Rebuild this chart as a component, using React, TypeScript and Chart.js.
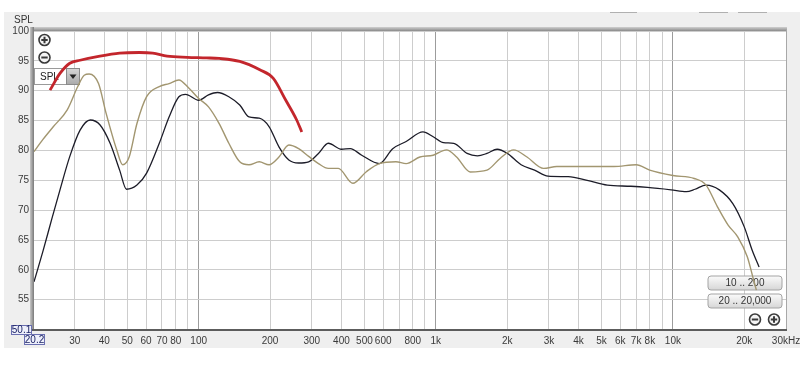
import React, { useEffect, useRef } from 'react';
import { Chart, registerables } from 'chart.js';

Chart.register(...registerables);

// ---- data (frequency in Hz, SPL in dB) ----
const redFreq = [23.6, 26, 28.6, 31.6, 38.3, 46.4, 56.2, 64, 73.6, 89.5, 108, 122, 149, 181, 206, 233, 259, 272];
const redSpl = [90.1, 92.9, 94.6, 95.1, 95.8, 96.3, 96.4, 96.3, 95.8, 95.6, 95.5, 95.4, 94.9, 93.5, 92.1, 88.4, 85.1, 83.1];

const tanFreq = [20.2, 22, 24.4, 27.9, 30.9, 32.9, 34.5, 37.8, 40.7, 45.1, 47.8, 50.9, 54.9, 60.3, 68.2, 75, 82.5, 91, 100, 110, 122, 134, 149, 163, 180, 198, 218, 240, 264, 291, 320, 352, 388, 447, 508, 578, 679, 750, 857, 975, 1109, 1224, 1397, 1644, 1872, 2130, 2425, 2847, 3240, 4080, 5640, 7010, 7980, 10000, 12300, 13800, 15400, 17100, 18800, 20600, 21900, 22500];
const tanSpl = [79.8, 81.8, 84, 86.8, 90.7, 92.6, 92.8, 91.2, 86.2, 80.1, 77.6, 78.9, 84.5, 89, 90.7, 91.2, 91.8, 90.4, 88.7, 87.3, 84.5, 81.2, 78.1, 77.6, 78.1, 77.6, 78.9, 80.9, 80.3, 79, 77.8, 77.0, 77.0, 74.5, 76.4, 77.8, 78.1, 77.8, 78.9, 79.2, 80.1, 78.9, 76.4, 76.7, 78.7, 80.1, 78.9, 77.0, 77.3, 77.3, 77.3, 77.6, 76.7, 75.8, 75.3, 74.2, 70.6, 67.5, 65.5, 62.2, 58.3, 56.6];

const blackFreq = [20.2, 22.1, 24, 26, 28.6, 31.6, 34.9, 38.3, 42.3, 46.4, 49.6, 54.9, 60.3, 68.2, 75, 82.5, 88, 100, 110, 120, 134, 149, 163, 180, 198, 218, 240, 264, 291, 320, 352, 400, 436, 487, 578, 658, 750, 883, 975, 1078, 1190, 1355, 1498, 1644, 1815, 2004, 2290, 2610, 2975, 3620, 4350, 5290, 6650, 7810, 9830, 11400, 12400, 13800, 15700, 17900, 20000, 21600, 23100];
const blackSpl = [58, 63.3, 68.5, 73.4, 79, 83.4, 85.1, 84.3, 81.2, 76.7, 73.5, 74.2, 76.2, 81.2, 85.6, 89, 89.4, 88.4, 89.3, 89.7, 89, 87.6, 85.6, 85.4, 84, 80.6, 78.4, 77.9, 78.1, 79.5, 81.2, 80.2, 80.3, 79.2, 77.8, 80.3, 81.5, 83.1, 82.3, 81.3, 81.2, 79.5, 79.1, 79.5, 80.2, 79.5, 77.6, 76.7, 75.7, 75.6, 75, 74.2, 74, 73.8, 73.4, 73.1, 73.5, 74.2, 73.4, 71.1, 67.2, 63.3, 60.5];

// ---- axes ----
const xMin = 20.2;
const xMax = 30000;
const yMin = 50.1;
const yMax = 100;
const xGridValues = [30, 40, 50, 60, 70, 80, 90, 100, 200, 300, 400, 500, 600, 700, 800, 900, 1000, 2000, 3000, 4000, 5000, 6000, 7000, 8000, 9000, 10000, 20000, 30000];
const xTickText = ['30', '40', '50', '60', '70', '80', '', '100', '200', '300', '400', '500', '600', '', '800', '', '1k', '2k', '3k', '4k', '5k', '6k', '7k', '8k', '', '10k', '20k', '30kHz'];
const yTickValues = [55, 60, 65, 70, 75, 80, 85, 90, 95, 100];
const decadeValues = [100, 1000, 10000];

const FONT = 'Liberation Sans, Arial, sans-serif';

function toPts(f: number[], s: number[]) {
  return f.map((x, i) => ({ x, y: s[i] }));
}

function roundRect(ctx: CanvasRenderingContext2D, x: number, y: number, w: number, h: number, r: number) {
  ctx.beginPath();
  ctx.moveTo(x + r, y);
  ctx.lineTo(x + w - r, y);
  ctx.arcTo(x + w, y, x + w, y + r, r);
  ctx.lineTo(x + w, y + h - r);
  ctx.arcTo(x + w, y + h, x + w - r, y + h, r);
  ctx.lineTo(x + r, y + h);
  ctx.arcTo(x, y + h, x, y + h - r, r);
  ctx.lineTo(x, y + r);
  ctx.arcTo(x, y, x + r, y, r);
  ctx.closePath();
}

function circleIcon(ctx: CanvasRenderingContext2D, cx: number, cy: number, plus: boolean) {
  ctx.save();
  ctx.beginPath();
  ctx.arc(cx, cy, 5.5, 0, Math.PI * 2);
  ctx.fillStyle = '#f4f4f4';
  ctx.fill();
  ctx.lineWidth = 1.6;
  ctx.strokeStyle = '#3a3a3a';
  ctx.stroke();
  ctx.lineWidth = 2;
  ctx.beginPath();
  ctx.moveTo(cx - 3.2, cy);
  ctx.lineTo(cx + 3.2, cy);
  if (plus) {
    ctx.moveTo(cx, cy - 3.2);
    ctx.lineTo(cx, cy + 3.2);
  }
  ctx.stroke();
  ctx.restore();
}

function button(ctx: CanvasRenderingContext2D, x: number, y: number, w: number, h: number, text: string) {
  ctx.save();
  const g = ctx.createLinearGradient(0, y, 0, y + h);
  g.addColorStop(0, '#fbfbfb');
  g.addColorStop(1, '#d6d6d6');
  roundRect(ctx, x, y, w, h, 3);
  ctx.fillStyle = g;
  ctx.fill();
  ctx.strokeStyle = '#a4a4a4';
  ctx.lineWidth = 1;
  ctx.stroke();
  ctx.fillStyle = '#333';
  ctx.font = '10px ' + FONT;
  ctx.textAlign = 'center';
  ctx.textBaseline = 'middle';
  ctx.fillText(text, x + w / 2, y + h / 2 + 0.5);
  ctx.restore();
}

function valueBox(ctx: CanvasRenderingContext2D, x: number, y: number, w: number, h: number, text: string) {
  ctx.save();
  ctx.fillStyle = '#eef0fb';
  ctx.fillRect(x, y, w, h);
  ctx.strokeStyle = '#6a6fb0';
  ctx.lineWidth = 1;
  ctx.strokeRect(x + 0.5, y + 0.5, w - 1, h - 1);
  ctx.fillStyle = '#1c2366';
  ctx.font = '10px ' + FONT;
  ctx.textAlign = 'center';
  ctx.textBaseline = 'middle';
  ctx.fillText(text, x + w / 2, y + h / 2 + 0.5);
  ctx.restore();
}

const chromePlugin = {
  id: 'rewChrome',
  beforeDraw(chart: any) {
    const { ctx, chartArea } = chart;
    ctx.save();
    ctx.fillStyle = '#ffffff';
    ctx.fillRect(0, 0, chart.width, chart.height);
    ctx.fillStyle = '#efefef';
    ctx.fillRect(4, 12, chart.width - 4, 336);
    ctx.fillStyle = '#ffffff';
    ctx.fillRect(chartArea.left, chartArea.top, chartArea.right - chartArea.left, chartArea.bottom - chartArea.top);
    // faint tops of cropped widgets
    ctx.strokeStyle = '#b0b0b0';
    ctx.lineWidth = 1;
    ctx.beginPath();
    ctx.moveTo(610, 12.5); ctx.lineTo(637, 12.5);
    ctx.moveTo(699, 12.5); ctx.lineTo(728, 12.5);
    ctx.moveTo(738, 12.5); ctx.lineTo(767, 12.5);
    ctx.stroke();
    // SPL axis title
    ctx.fillStyle = '#333';
    ctx.font = '10px ' + FONT;
    ctx.textAlign = 'left';
    ctx.textBaseline = 'middle';
    ctx.fillText('SPL', 14, 20);
    ctx.restore();
  },
  beforeDatasetsDraw(chart: any) {
    const { ctx, chartArea } = chart;
    const L = chartArea.left;
    ctx.save();
    circleIcon(ctx, L + 10.5, 40, true);
    circleIcon(ctx, L + 10.5, 57.5, false);
    // SPL dropdown
    ctx.fillStyle = '#ffffff';
    ctx.fillRect(L, 68, 46, 17);
    ctx.strokeStyle = '#9a9a9a';
    ctx.lineWidth = 1;
    ctx.strokeRect(L + 0.5, 68.5, 45, 16);
    const g = ctx.createLinearGradient(0, 68, 0, 85);
    g.addColorStop(0, '#d8d8d8');
    g.addColorStop(1, '#a8a8a8');
    ctx.fillStyle = g;
    ctx.fillRect(L + 33, 69, 12, 15);
    ctx.strokeStyle = '#8a8a8a';
    ctx.strokeRect(L + 32.5, 68.5, 13, 16);
    ctx.fillStyle = '#222';
    ctx.beginPath();
    ctx.moveTo(L + 35.5, 74.5);
    ctx.lineTo(L + 42.5, 74.5);
    ctx.lineTo(L + 39, 79);
    ctx.closePath();
    ctx.fill();
    ctx.fillStyle = '#222';
    ctx.font = '10px ' + FONT;
    ctx.textAlign = 'left';
    ctx.textBaseline = 'middle';
    ctx.fillText('SPL', L + 6, 77);
    // range buttons
    button(ctx, 708, 276, 74, 14, '10 .. 200');
    button(ctx, 708, 294, 74, 14, '20 .. 20,000');
    circleIcon(ctx, 755, 319.5, false);
    circleIcon(ctx, 774, 319.5, true);
    ctx.restore();
  },
  afterDraw(chart: any) {
    const { ctx, chartArea } = chart;
    const { left, right, top, bottom } = chartArea;
    ctx.save();
    // frame
    const gt = ctx.createLinearGradient(0, top - 4, 0, top);
    gt.addColorStop(0, '#d0d0d0');
    gt.addColorStop(1, '#8a8a8a');
    ctx.fillStyle = gt;
    ctx.fillRect(left - 3, top - 4, right - left + 4, 4);
    const gl = ctx.createLinearGradient(left - 4, 0, left, 0);
    gl.addColorStop(0, '#c8c8c8');
    gl.addColorStop(1, '#7a7a7a');
    ctx.fillStyle = gl;
    ctx.fillRect(left - 4, top - 4, 4, bottom - top + 6);
    ctx.fillStyle = '#5c5c5c';
    ctx.fillRect(left - 2, bottom, right - left + 3, 2);
    ctx.fillStyle = '#a8a8a8';
    ctx.fillRect(right, top - 2, 1, bottom - top + 2);
    // min value boxes
    valueBox(ctx, 11, 325, 21, 10, '50.1');
    valueBox(ctx, 24, 334, 21, 11, '20.2');
    ctx.restore();
  },
};

export default function App() {
  const canvasRef = useRef<HTMLCanvasElement | null>(null);

  useEffect(() => {
    const canvas = canvasRef.current;
    if (!canvas) return;
    const chart = new Chart(canvas, {
      type: 'scatter',
      data: {
        datasets: [
          {
            label: 'Red',
            data: toPts(redFreq, redSpl),
            showLine: true,
            borderColor: '#c3262c',
            borderWidth: 2.8,
            pointRadius: 0,
            cubicInterpolationMode: 'monotone',
          },
          {
            label: 'Tan',
            data: toPts(tanFreq, tanSpl),
            showLine: true,
            borderColor: '#a29670',
            borderWidth: 1.4,
            pointRadius: 0,
            cubicInterpolationMode: 'monotone',
          },
          {
            label: 'Black',
            data: toPts(blackFreq, blackSpl),
            showLine: true,
            borderColor: '#1c1c28',
            borderWidth: 1.3,
            pointRadius: 0,
            cubicInterpolationMode: 'monotone',
          },
        ],
      },
      options: {
        animation: false,
        responsive: false,
        devicePixelRatio: 1,
        layout: { padding: { top: 31, right: 14, left: 0, bottom: 0 } },
        plugins: { legend: { display: false }, tooltip: { enabled: false } },
        scales: {
          x: {
            type: 'logarithmic',
            min: xMin,
            max: xMax,
            afterBuildTicks: (s: any) => {
              s.ticks = xGridValues.map((v) => ({ value: v }));
            },
            afterFit: (s: any) => {
              s.height = 48;
              s.paddingLeft = 0;
              s.paddingRight = 0;
            },
            border: { display: false },
            grid: {
              drawTicks: false,
              color: (c: any) => (decadeValues.includes(c.tick?.value) ? '#9c9c9c' : '#cdcdcd'),
              lineWidth: 1,
            },
            ticks: {
              autoSkip: false,
              maxRotation: 0,
              minRotation: 0,
              padding: 6,
              color: '#3a3a3a',
              font: { family: FONT, size: 10 },
              callback: (v: any) => {
                const i = xGridValues.indexOf(Number(v));
                return i >= 0 ? xTickText[i] : '';
              },
            },
          },
          y: {
            type: 'linear',
            min: yMin,
            max: yMax,
            afterBuildTicks: (s: any) => {
              s.ticks = yTickValues.map((v) => ({ value: v }));
            },
            afterFit: (s: any) => {
              s.width = 34;
              s.paddingTop = 0;
              s.paddingBottom = 0;
            },
            border: { display: false },
            grid: { drawTicks: false, color: '#cdcdcd', lineWidth: 1 },
            ticks: {
              padding: 5,
              color: '#3a3a3a',
              font: { family: FONT, size: 10 },
              callback: (v: any) => String(v),
            },
          },
        },
      },
      plugins: [chromePlugin],
    });
    return () => chart.destroy();
  }, []);

  return (
    <div style={{ position: 'absolute', left: 0, top: 0, width: 800, height: 377 }}>
      <canvas ref={canvasRef} width={800} height={377} style={{ display: 'block' }} />
    </div>
  );
}
